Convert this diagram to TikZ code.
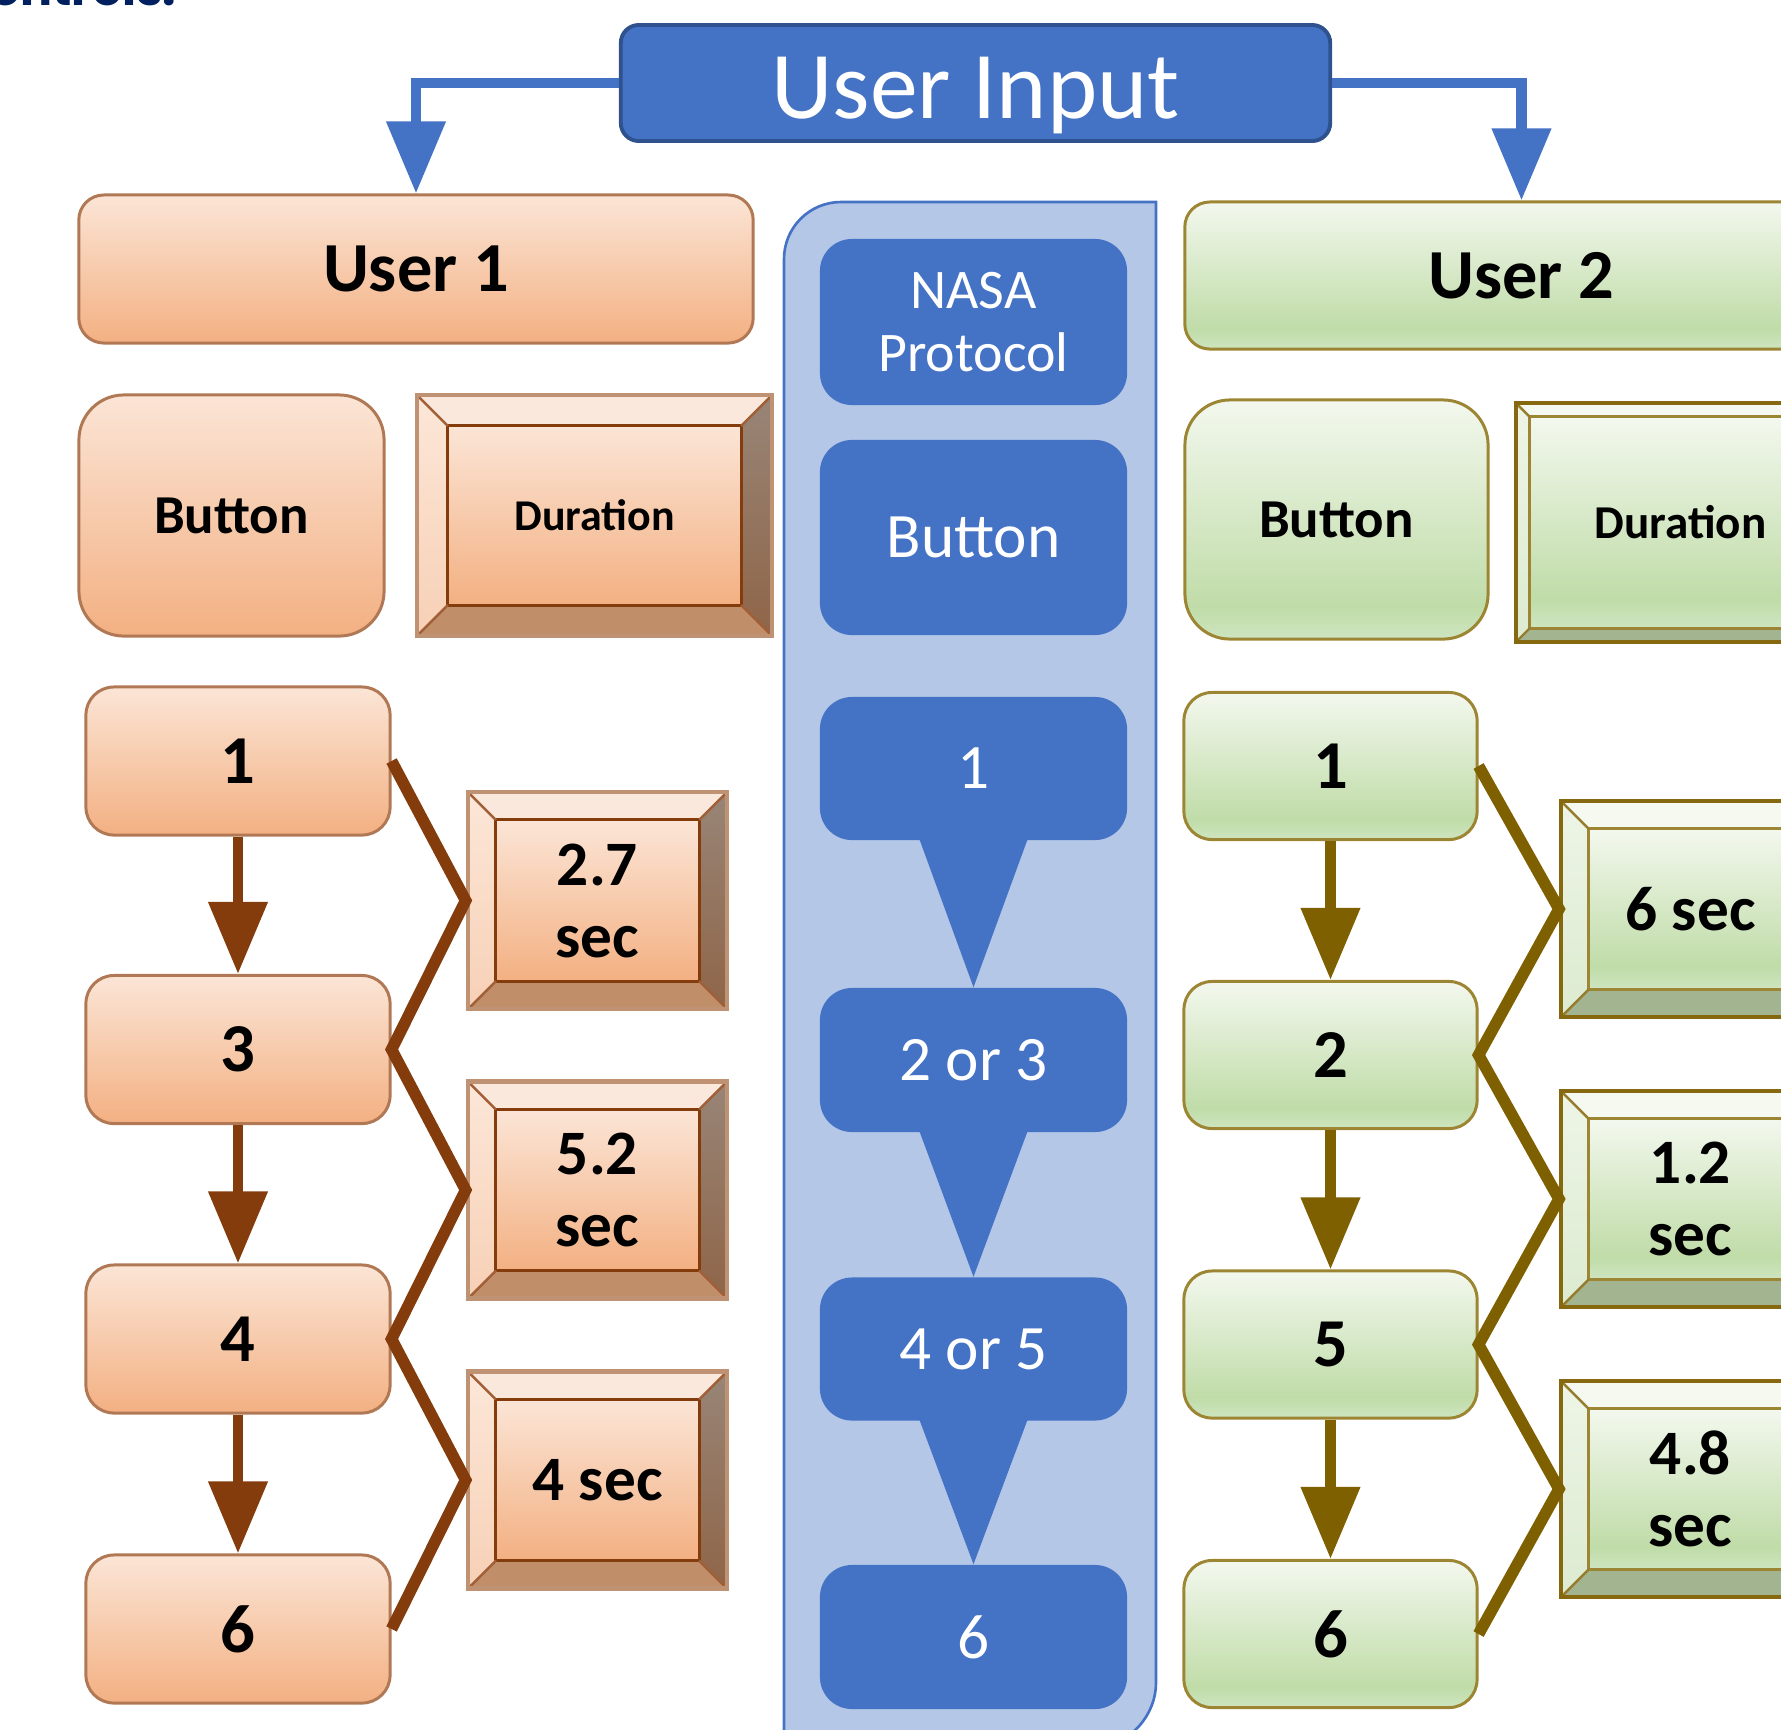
\documentclass[tikz,border=0pt]{standalone}
\usepackage{fontspec}
\setmainfont{Carlito}
\newfontfamily\headfont{Poppins}
\usetikzlibrary{arrows.meta,calc}

% palette
\definecolor{uiblue}{RGB}{68,114,196}
\definecolor{uiedge}{RGB}{47,82,143}
\definecolor{panelblue}{RGB}{180,199,231}
\definecolor{navy}{RGB}{0,32,96}
\definecolor{brownln}{RGB}{132,60,12}
\definecolor{oliveln}{RGB}{127,96,0}
% orange family
\definecolor{ortop}{RGB}{251,229,214}
\definecolor{orbot}{RGB}{243,176,130}
\definecolor{oredge}{RGB}{176,120,84}
\definecolor{orT}{RGB}{251,232,220}
\definecolor{orLt}{RGB}{252,231,216}
\definecolor{orLb}{RGB}{247,208,182}
\definecolor{orRt}{RGB}{152,133,119}
\definecolor{orRb}{RGB}{143,101,72}
\definecolor{orB}{RGB}{193,142,106}
\definecolor{orE}{RGB}{132,60,12}
\definecolor{orD}{RGB}{160,95,55}
\definecolor{orrim}{RGB}{192,146,116}
% green family
\definecolor{grtop}{RGB}{243,248,238}
\definecolor{grmid}{RGB}{192,220,168}
\definecolor{grbot}{RGB}{206,229,192}
\definecolor{gredge}{RGB}{156,133,51}
\definecolor{grT}{RGB}{245,249,240}
\definecolor{grLt}{RGB}{238,245,231}
\definecolor{grLb}{RGB}{220,235,208}
\definecolor{grRt}{RGB}{150,165,128}
\definecolor{grRb}{RGB}{135,152,112}
\definecolor{grB}{RGB}{163,180,144}
\definecolor{grE}{RGB}{156,133,51}
\definecolor{grD}{RGB}{150,125,45}
\definecolor{grrim}{RGB}{134,104,14}

\pgfdeclareverticalshading{greenfill}{100bp}{color(0bp)=(grbot); color(25bp)=(grbot); color(32bp)=(grmid); color(75bp)=(grtop); color(100bp)=(grtop)}

% bevelled key: side facets, face and mitre lines
\newcommand\bevelfacets[3]{%
  \path (path picture bounding box.north west) coordinate (p1)
        (path picture bounding box.north east) coordinate (p2)
        (path picture bounding box.south east) coordinate (p3)
        (path picture bounding box.south west) coordinate (p4);
  \path ($(p1)+(#1,#1)$) coordinate (q1) ($(p2)+(-#1,#1)$) coordinate (q2)
        ($(p3)+(-#1,-#1)$) coordinate (q3) ($(p4)+(#1,-#1)$) coordinate (q4);
  \fill[#2T] (p1) -- (p2) -- (q2) -- (q1) -- cycle;
  \shade[top color=#2Lt, bottom color=#2Lb] (p1) -- (q1) -- (q4) -- (p4) -- cycle;
  \shade[top color=#2Rt, bottom color=#2Rb] (p2) -- (p3) -- (q3) -- (q2) -- cycle;
  \fill[#2B] (p4) -- (q4) -- (q3) -- (p3) -- cycle;
  \path[#3, draw=#2E, line width=0.85pt] (q1) rectangle (q3);
  \draw[#2D, line width=0.7pt] (p1) -- (q1) (p2) -- (q2) (p3) -- (q3) (p4) -- (q4);
}

\tikzset{
  box/.style={rectangle, inner sep=0pt, align=center},
  orfill/.style={top color=ortop, bottom color=orbot, draw=oredge, line width=0.85pt},
  grfill/.style={shade, shading=greenfill, draw=gredge, line width=0.85pt},
  orface/.style={top color=ortop, bottom color=orbot},
  grface/.style={shade, shading=greenfill},
  orbevel/.style={box, draw=orrim, line width=1.3pt, path picture={\bevelfacets{#1}{or}{orface}}},
  grbevel/.style={box, draw=grrim, line width=1.1pt, path picture={\bevelfacets{#1}{gr}{grface}}},
  userbox/.style={box, minimum width=6.74cm, minimum height=1.48cm, rounded corners=0.25cm,
    font=\fontsize{20}{24}\selectfont\bfseries},
  keybox/.style={box, minimum width=3.05cm, minimum height=2.41cm, rounded corners=0.45cm,
    font=\fontsize{15.6}{19}\selectfont\bfseries},
  numbox/.style={box, minimum width=3.04cm, minimum height=1.48cm, rounded corners=0.28cm,
    font=\fontsize{19.5}{23}\selectfont\bfseries},
  secbox/.style={minimum width=2.59cm, minimum height=2.17cm,
    font=\fontsize{18}{20.5}\selectfont\bfseries},
  midbox/.style={box, fill=uiblue, text=white, minimum width=3.07cm, rounded corners=0.32cm,
    font=\fontsize{18}{21}\selectfont},
  flow/.style={line width=3.1pt, -{Triangle[width=16.2pt, length=20.5pt]}},
  zig/.style={line width=3.3pt},
}

\begin{document}
\begin{tikzpicture}[x=0.01cm, y=-0.01cm]
\useasboundingbox (0,0) rectangle (1781,1729);
\clip (0,0) rectangle (1781,1729);

% heading running off the top edge
\node[anchor=base east, text=navy, inner sep=0pt,
      font=\headfont\bfseries\fontsize{13.5}{16}\selectfont] (hdr) at (177,5) {Controls:};

% central protocol panel
\path[fill=panelblue, draw=uiblue, line width=0.75pt]
  (784,1745) -- (784,259) .. controls (784,227.5) and (809.5,202) .. (841,202)
  -- (1156,202) -- (1156,1683) .. controls (1156,1714.5) and (1130.5,1745) .. (1099,1745)
  -- cycle;

% top node
\node[box, fill=uiblue, draw=uiedge, line width=1.1pt, rounded corners=0.18cm,
      minimum width=7.09cm, minimum height=1.16cm, text=white, text height=0.70cm, text depth=0pt,
      font=\fontsize{27.2}{32}\selectfont] (ui) at (975.5,83) {User Input};

% user 1 column
\node[userbox, orfill] (u1) at (416,269) {User 1};
\node[keybox, orfill] (btn1) at (231.5,515.5) {Button};
\node[orbevel=31, minimum width=3.55cm, minimum height=2.41cm,
      font=\fontsize{12.5}{15}\selectfont\bfseries] (dur1) at (594.5,515.5) {Duration};
\node[numbox, orfill] (L1) at (238,761) {1};
\node[numbox, orfill] (L3) at (238,1049.5) {3};
\node[numbox, orfill] (L4) at (238,1339) {4};
\node[numbox, orfill] (L6) at (238,1629) {6};
\node[orbevel=28, secbox] (Ld1) at (597.5,900.5) {2.7\\sec};
\node[orbevel=28, secbox] (Ld2) at (597.5,1190) {5.2\\sec};
\node[orbevel=28, secbox] (Ld3) at (597.5,1480) {4 sec};

% protocol column
\node[midbox, minimum height=1.66cm, font=\fontsize{15.9}{17.9}\selectfont] (nasa) at (973.5,322) {NASA\\Protocol};
\node[midbox, minimum height=1.95cm] (mbtn) at (973.5,537.5) {Button};
\node[midbox, minimum height=1.43cm] (m1) at (973.5,768.5) {1};
\node[midbox, minimum height=1.44cm] (m23) at (973.5,1060) {2 or 3};
\node[midbox, minimum height=1.43cm] (m45) at (973.5,1349) {4 or 5};
\node[midbox, minimum height=1.44cm] (m6) at (973.5,1637) {6};
\foreach \a/\b in {m1/m23, m23/m45, m45/m6}
  \fill[uiblue] ($(\a.south)+(-55,-4)$) -- ($(\a.south)+(55,-4)$) -- (\b.north) -- cycle;

% user 2 column
\node[userbox, grfill, minimum width=6.73cm, minimum height=1.47cm] (u2) at (1521.5,275.5) {User 2};
\node[keybox, grfill, minimum width=3.03cm, minimum height=2.39cm] (btn2) at (1336.5,519.5) {Button};
\node[grbevel=14, minimum width=3.29cm, minimum height=2.39cm,
      font=\fontsize{13.4}{16}\selectfont\bfseries] (dur2) at (1680.5,522.5) {Duration};
\node[numbox, grfill, minimum width=2.93cm, minimum height=1.47cm] (R1) at (1330.5,766) {1};
\node[numbox, grfill, minimum width=2.93cm, minimum height=1.47cm] (R2) at (1330.5,1055) {2};
\node[numbox, grfill, minimum width=2.93cm, minimum height=1.47cm] (R5) at (1330.5,1344.5) {5};
\node[numbox, grfill, minimum width=2.93cm, minimum height=1.47cm] (R6) at (1330.5,1634) {6};
\node[grbevel=28, secbox, minimum height=2.16cm] (Rd1) at (1690.5,909) {6 sec};
\node[grbevel=28, secbox, minimum height=2.16cm] (Rd2) at (1690.5,1199) {1.2\\sec};
\node[grbevel=28, secbox, minimum height=2.16cm] (Rd3) at (1690.5,1489) {4.8\\sec};

% input split
\draw[flow, uiblue] (ui.west) -| (u1.north);
\draw[flow, uiblue] (ui.east) -| (u2.north);

% press sequences
\draw[flow, brownln] (L1.south) -- (L3.north);
\draw[flow, brownln] (L3.south) -- (L4.north);
\draw[flow, brownln] (L4.south) -- (L6.north);
\draw[flow, oliveln] (R1.south) -- (R2.north);
\draw[flow, oliveln] (R2.south) -- (R5.north);
\draw[flow, oliveln] (R5.south) -- (R6.north);

% timing links
\draw[zig, brownln] (L1.east) -- (Ld1.west) -- (L3.east) -- (Ld2.west) -- (L4.east) -- (Ld3.west) -- (L6.east);
\draw[zig, oliveln] (R1.east) -- (Rd1.west) -- (R2.east) -- (Rd2.west) -- (R5.east) -- (Rd3.west) -- (R6.east);
\end{tikzpicture}
\end{document}
